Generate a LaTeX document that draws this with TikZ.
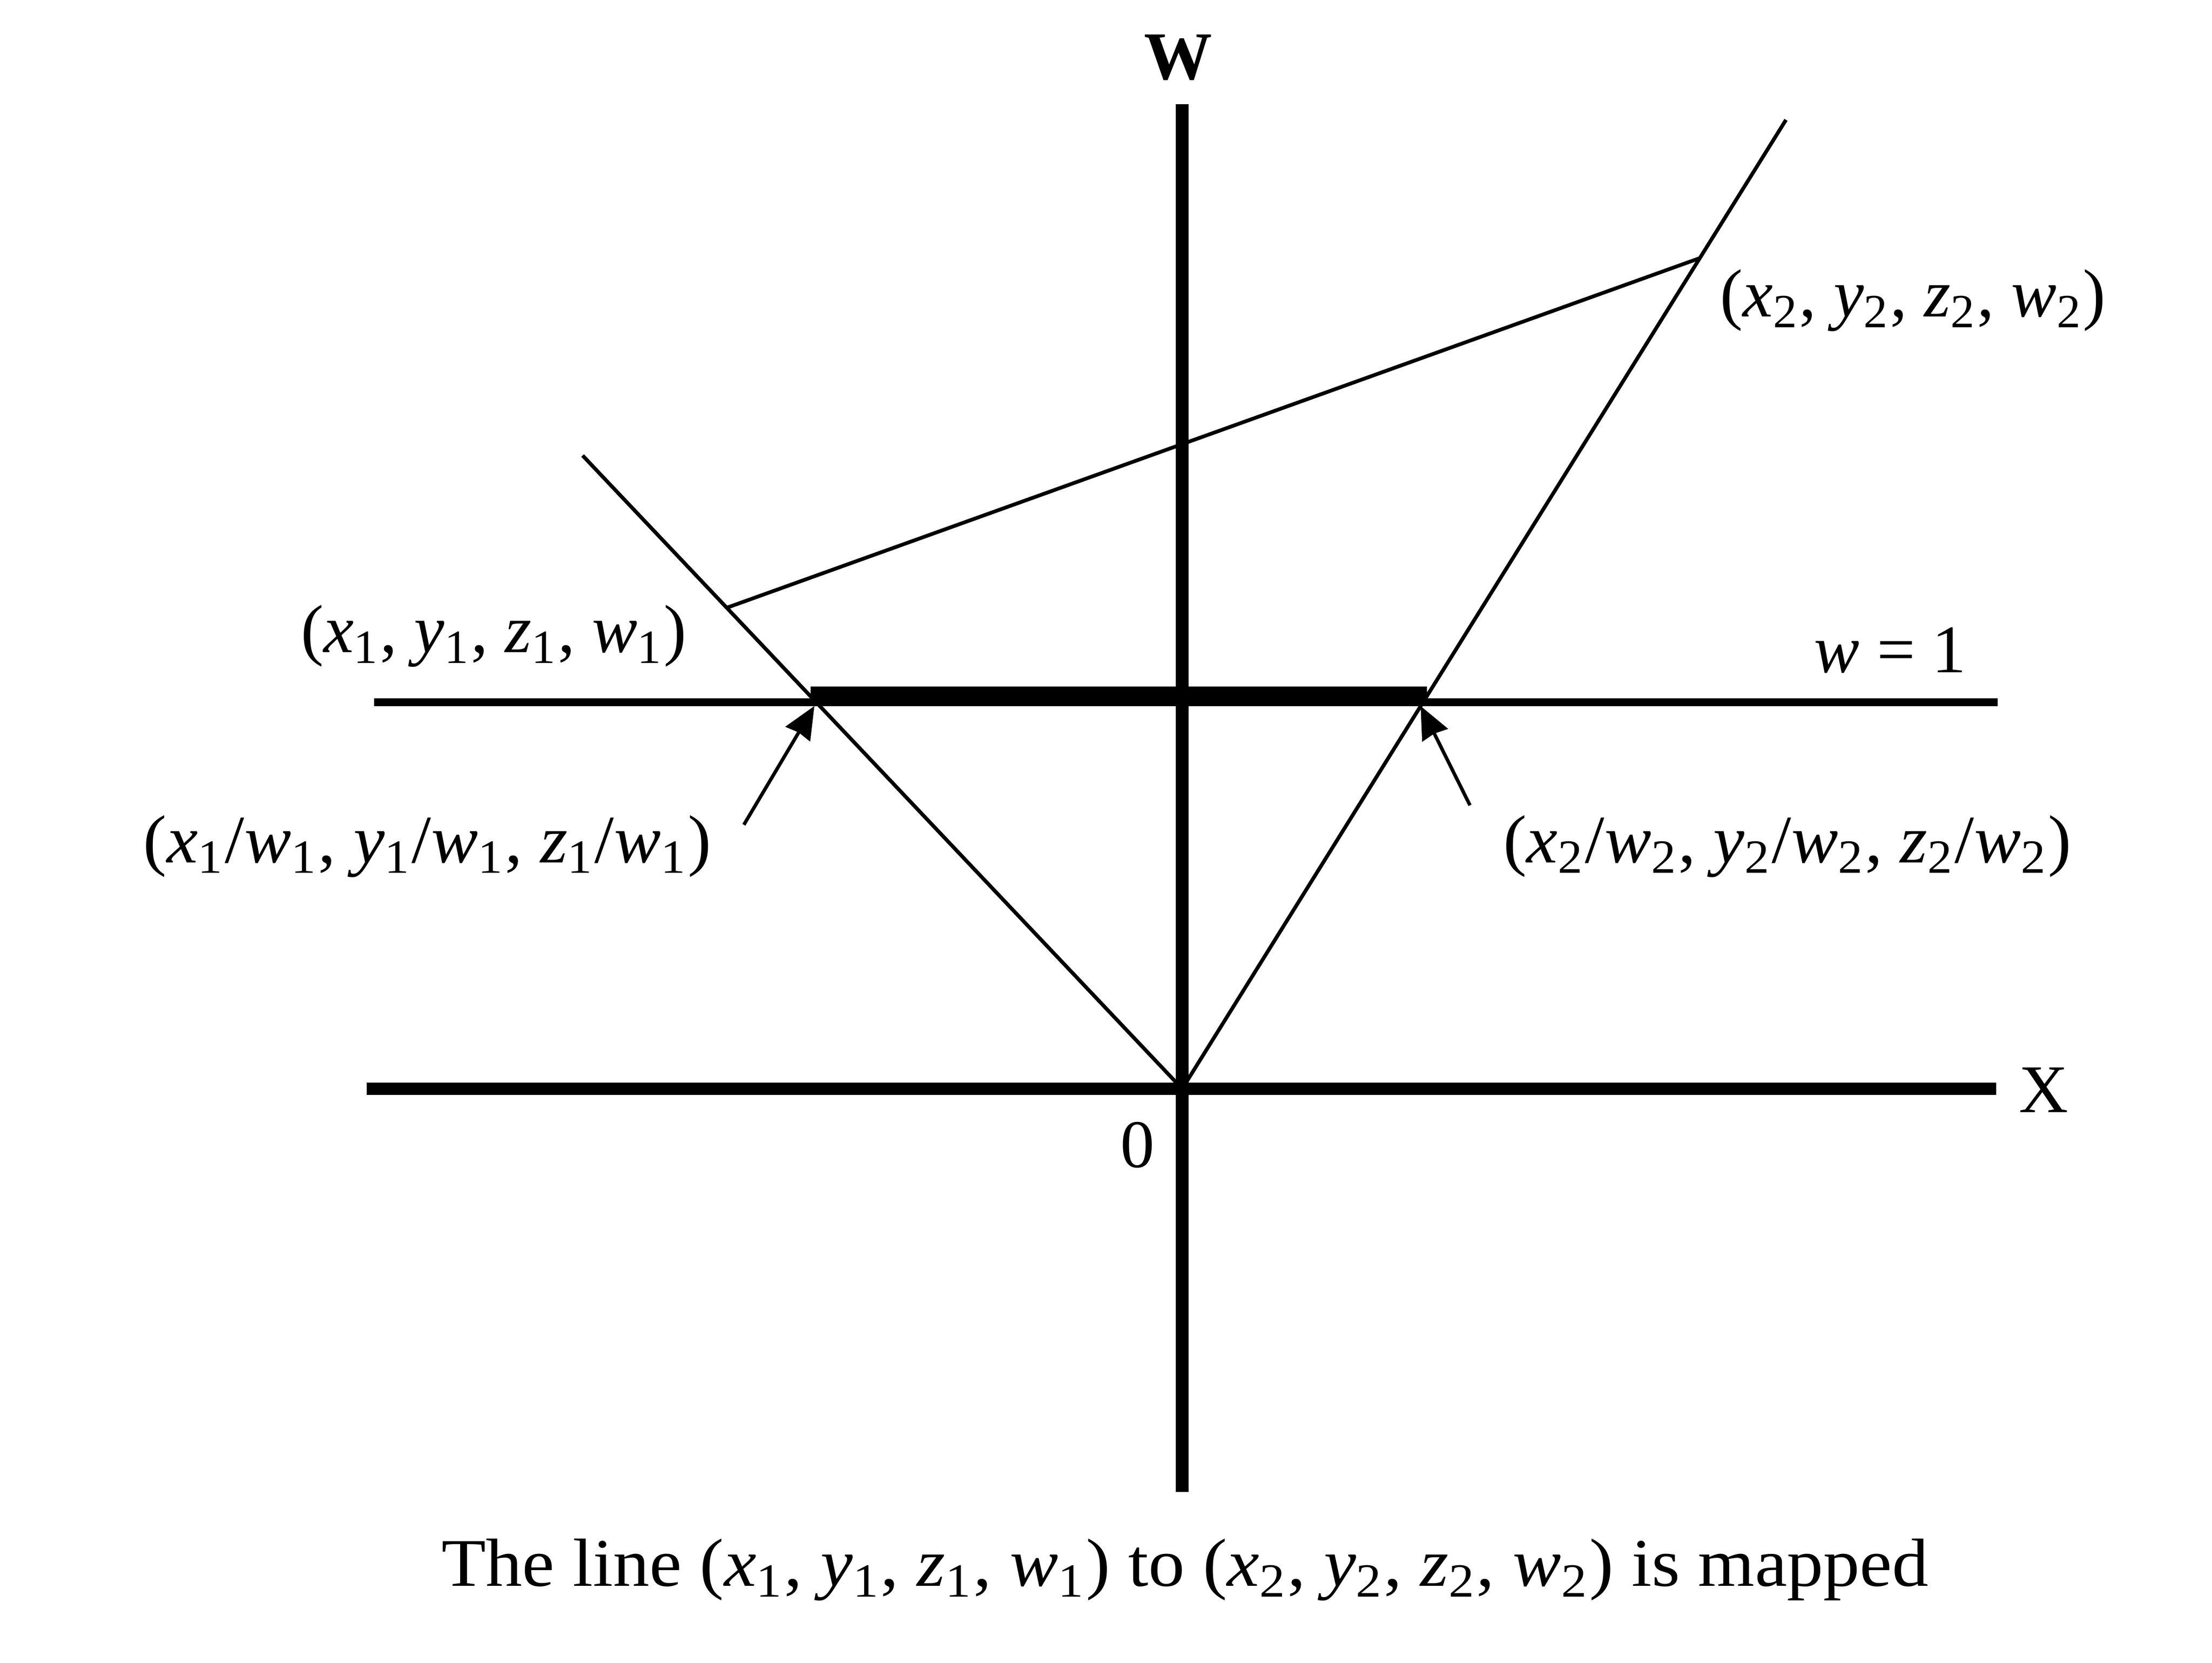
\documentclass[tikz,border=0pt]{standalone}
\usepackage{fontspec}
\setmainfont{Liberation Serif}
\usepackage{tikz}
\usetikzlibrary{arrows.meta}

\newcommand{\cv}[2]{\textit{#1}\textsubscript{#2}}

\begin{document}
\begin{tikzpicture}[axis line/.style={line width=2.5pt},
                    plane line/.style={line width=1.6pt},
                    image line/.style={line width=3.95pt},
                    ray line/.style={line width=0.75pt},
                    pointer/.style={line width=0.7pt,-{Stealth[length=0.23cm,width=0.2cm,inset=0.012cm]}},
                    label node/.style={inner sep=0pt,font=\fontsize{13.75}{16}\selectfont}]

  \useasboundingbox (-8.38,-4.071) rectangle (7.30,7.72);

  % axes and the plane w = 1
  \coordinate (O) at (0,0);
  \coordinate (wtop) at (0,6.98);
  \coordinate (wbot) at (0,-2.86);
  \coordinate (xleft) at (-5.78,0);
  \coordinate (xright) at (5.77,0);
  \coordinate (pleft) at (-5.73,2.74);
  \coordinate (pright) at (5.78,2.74);

  % rays through the origin and the line between the two points
  \coordinate (r1) at (-4.25,4.49);
  \coordinate (r2) at (4.28,6.87);
  \coordinate (p1) at (-3.23,3.41);
  \coordinate (p2) at (3.67,5.89);
  \coordinate (q1) at (-2.634,2.784);
  \coordinate (q2) at (1.734,2.784);

  \draw[axis line] (wbot) -- (wtop);
  \draw[axis line] (xleft) -- (xright);
  \draw[plane line] (pleft) -- (pright);
  \draw[image line] (q1) -- (q2);
  \draw[ray line] (O) -- (r1);
  \draw[ray line] (O) -- (r2);
  \draw[ray line] (p1) -- (p2);

  \node[label node,font=\fontsize{13.75}{16}\selectfont\bfseries] (W) at (-0.03,7.31) {W};
  \node[label node] (X) at (6.105,-0.01) {X};
  \node[label node] (zero) at (-0.315,-0.40) {0};
  \node[label node] (w1) at (5.02,3.11) {\textit{w} = 1};
  \node[label node] (pt1) at (-4.88,3.21) {(\cv{x}{1}, \cv{y}{1}, \cv{z}{1}, \cv{w}{1})};
  \node[label node] (pt2) at (5.18,5.59) {(\cv{x}{2}, \cv{y}{2}, \cv{z}{2}, \cv{w}{2})};
  \node[label node] (im1) at (-5.35,1.72) {\addfontfeature{FakeStretch=1.03}(\cv{x}{1}/\cv{w}{1}, \cv{y}{1}/\cv{w}{1}, \cv{z}{1}/\cv{w}{1})};
  \node[label node] (im2) at (4.29,1.72) {\addfontfeature{FakeStretch=1.03}(\cv{x}{2}/\cv{w}{2}, \cv{y}{2}/\cv{w}{2}, \cv{z}{2}/\cv{w}{2})};
  \node[label node] (caption) at (0.02,-3.41) {\addfontfeature{FakeStretch=1.066}The line (\cv{x}{1}, \cv{y}{1}, \cv{z}{1}, \cv{w}{1}) to (\cv{x}{2}, \cv{y}{2}, \cv{z}{2}, \cv{w}{2}) is mapped};

  % pointers to the images on w = 1
  \coordinate (a1) at (-3.107,1.872);
  \coordinate (t1) at (-2.607,2.714);
  \coordinate (a2) at (2.04,2.01);
  \coordinate (t2) at (1.69,2.714);
  \draw[pointer] (a1) -- (t1);
  \draw[pointer] (a2) -- (t2);
\end{tikzpicture}
\end{document}
